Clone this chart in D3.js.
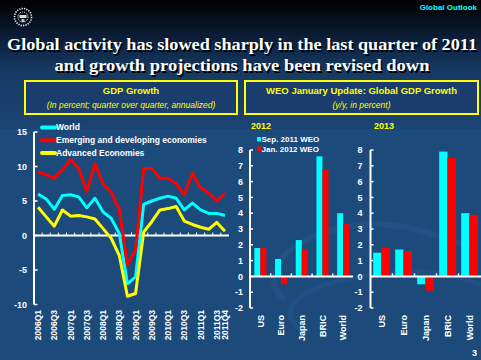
<!DOCTYPE html>
<html><head><meta charset="utf-8">
<script src="https://cdn.jsdelivr.net/npm/d3@7"></script>
<style>html,body{margin:0;padding:0;background:#1b4a7b;}svg{display:block;}</style>
</head><body>
<script>
// ---------- DATA ----------
const quarters = ["2006Q1","2006Q2","2006Q3","2006Q4","2007Q1","2007Q2","2007Q3","2007Q4",
  "2008Q1","2008Q2","2008Q3","2008Q4","2009Q1","2009Q2","2009Q3","2009Q4",
  "2010Q1","2010Q2","2010Q3","2010Q4","2011Q1","2011Q2","2011Q3","2011Q4"];
const worldGrowth    = [6.0,5.3,3.8,5.8,5.9,5.6,4.0,5.4,3.4,2.5,0.3,-7.0,-6.0,4.5,5.0,5.4,5.7,5.4,3.7,4.7,3.7,3.2,3.2,2.9];
const emergingGrowth = [9.2,8.8,8.35,9.5,11.0,9.7,6.4,10.4,7.5,6.3,3.7,-4.2,-2.1,9.7,9.7,8.3,8.3,7.5,5.9,9.0,6.9,6.2,5.0,6.1];
const advancedGrowth = [4.1,2.7,1.35,3.7,2.8,2.9,2.7,2.4,1.0,-0.4,-2.9,-8.8,-8.4,0.5,2.0,3.7,3.9,4.2,2.1,1.6,1.2,0.9,1.9,0.6];
const seriesNames = ["World","Emerging and developing economies","Advanced Economies"];
const leftTicks = [15,10,5,0,-5,-10];

const barCats = ["US","Euro","Japan","BRIC","World"];
const sep2011_2012 = [1.8,1.1,2.3,7.6,4.0];
const jan2012_2012 = [1.8,-0.5,1.7,6.8,3.3];
const sep2011_2013 = [1.5,1.7,-0.5,7.9,4.0];
const jan2012_2013 = [1.8,1.6,-0.9,7.5,3.9];
const barTicks = [8,7,6,5,4,3,2,1,0,-1,-2];
const barLegend = ["Sep. 2011 WEO","Jan. 2012 WEO"];

// ---------- SETUP ----------
const W = 481, H = 360;
const FONT = "'Liberation Sans', Arial, sans-serif";
const svg = d3.select("body").append("svg").attr("width", W).attr("height", H);
const defs = svg.append("defs");
const g1 = defs.append("linearGradient").attr("id","topgrad").attr("x1",0).attr("y1",0).attr("x2",0).attr("y2",1);
g1.append("stop").attr("offset","0%").attr("stop-color","#000000");
g1.append("stop").attr("offset","25%").attr("stop-color","#0a1a30");
g1.append("stop").attr("offset","55%").attr("stop-color","#163a64");
g1.append("stop").attr("offset","100%").attr("stop-color","#1b4373");

svg.append("rect").attr("width",W).attr("height",H).attr("fill","#1b4a7b");
svg.append("rect").attr("width",W).attr("height",129).attr("fill","url(#topgrad)");

// faint watermark swoosh
svg.append("path").attr("d","M285,300 C250,270 300,230 360,225 C410,220 440,240 470,245")
  .attr("fill","none").attr("stroke","#2a5a8c").attr("stroke-width",6).attr("opacity",0.45);
svg.append("path").attr("d","M300,330 C265,300 330,275 400,272 C440,270 470,280 481,285")
  .attr("fill","none").attr("stroke","#2a5a8c").attr("stroke-width",5).attr("opacity",0.35);

// logo (seal)
const logo = svg.append("g").attr("transform","translate(23,17)");
logo.append("circle").attr("r",8.5).attr("fill","none").attr("stroke","#fff").attr("stroke-width",1.6).attr("stroke-dasharray","1.2,1.2");
logo.append("circle").attr("r",5).attr("fill","none").attr("stroke","#fff").attr("stroke-width",1).attr("stroke-dasharray","1,1");
logo.append("rect").attr("x",-3.5).attr("y",-2).attr("width",7).attr("height",3).attr("fill","#fff").attr("opacity",0.85);
logo.append("rect").attr("x",-1.5).attr("y",2).attr("width",3).attr("height",3).attr("fill","#fff").attr("opacity",0.7);

svg.append("text").attr("x",477).attr("y",10).attr("text-anchor","end")
  .attr("font-family",FONT).attr("font-weight","bold").attr("font-size",8).attr("fill","#00ffff").text("Global Outlook");

// title
const titleLines = [["Global activity has slowed sharply in the last quarter of 2011",50,470],["and growth projections have been revised down",71,375]];
titleLines.forEach(([t,y,len])=>{
  [["#000",1.5],["#fff",0]].forEach(([c,o])=>{
    svg.append("text").attr("x",242+o).attr("y",y+o).attr("text-anchor","middle")
      .attr("font-family","'Liberation Serif', 'Times New Roman', serif").attr("font-weight","bold")
      .attr("font-size",16).attr("fill",c).attr("textLength",len).attr("lengthAdjust","spacingAndGlyphs").text(t);
  });
});

// header boxes
function hbox(x,w,title,sub){
  svg.append("rect").attr("x",x).attr("y",81).attr("width",w).attr("height",33)
    .attr("fill","#1a3d6d").attr("stroke","#ffff00").attr("stroke-width",2);
  svg.append("text").attr("x",x+w/2).attr("y",93.5).attr("text-anchor","middle").attr("font-family",FONT)
    .attr("font-weight","bold").attr("font-size",9.5).attr("fill","#ffff00").text(title);
  svg.append("text").attr("x",x+w/2).attr("y",107.5).attr("text-anchor","middle").attr("font-family",FONT)
    .attr("font-style","italic").attr("font-size",8.5).attr("fill","#ffff00").text(sub);
}
hbox(25,212,"GDP Growth","(In percent; quarter over quarter, annualized)");
hbox(245,233,"WEO January Update: Global GDP Growth","(y/y, in percent)");

// ---------- LEFT LINE CHART ----------
const x = d3.scaleBand().domain(quarters).range([34,229]);
const y = d3.scaleLinear().domain([-10,15]).range([304.5,132]);
const L = svg.append("g");
// y axis
L.append("line").attr("x1",34).attr("x2",34).attr("y1",y(15)).attr("y2",y(-10)).attr("stroke","#fff").attr("stroke-width",2);
leftTicks.forEach(v=>{
  L.append("line").attr("x1",34).attr("x2",37.5).attr("y1",y(v)).attr("y2",y(v)).attr("stroke","#fff").attr("stroke-width",1.5);
  L.append("text").attr("x",27).attr("y",y(v)).attr("dy","0.35em").attr("text-anchor","end")
    .attr("font-family",FONT).attr("font-weight","bold").attr("font-size",9).attr("fill","#fff").text(v);
});
// zero line
L.append("line").attr("x1",34).attr("x2",229).attr("y1",y(0)).attr("y2",y(0)).attr("stroke","#fff").attr("stroke-width",2);
quarters.forEach((q,i)=>{
  if(i>0) L.append("line").attr("x1",x(q)).attr("x2",x(q)).attr("y1",y(0)).attr("y2",y(0)-3).attr("stroke","#fff").attr("stroke-width",1);
  if(i%2===0 || i===quarters.length-1){
    const cx = x(q)+x.bandwidth()/2;
    L.append("text").attr("transform",`translate(${cx},310) rotate(-90)`).attr("dy","0.35em").attr("text-anchor","end")
      .attr("font-family",FONT).attr("font-weight","bold").attr("font-size",8.5).attr("fill","#fff").text(q);
  }
});
const line = d3.line().x((d,i)=>x(quarters[i])+x.bandwidth()/2).y(d=>y(d));
const lineSeries = [[worldGrowth,"#00ffff"],[emergingGrowth,"#ff0000"],[advancedGrowth,"#ffff00"]];
lineSeries.forEach(([data,c])=>{
  L.append("path").attr("d",line(data)).attr("fill","none").attr("stroke",c).attr("stroke-width",3).attr("stroke-linejoin","round");
});
// legend
seriesNames.forEach((n,i)=>{
  const ly = 127.5 + i*12.7;
  L.append("line").attr("x1",42).attr("x2",55).attr("y1",ly).attr("y2",ly).attr("stroke",lineSeries[i][1]).attr("stroke-width",4).attr("stroke-linecap","round");
  L.append("text").attr("x",56).attr("y",ly).attr("dy","0.35em").attr("font-family",FONT).attr("font-weight","bold")
    .attr("font-size",8.5).attr("fill","#fff").text(n);
});

// ---------- BAR CHARTS ----------
function barChart(opt){
  const bx = d3.scaleBand().domain(barCats).range(opt.range);
  const by = d3.scaleLinear().domain([-2,8]).range([308,150]);
  const G = svg.append("g");
  const x0 = opt.range[0];
  G.append("text").attr("x",opt.titleX).attr("y",128.5).attr("font-family",FONT).attr("font-weight","bold")
    .attr("font-size",9).attr("fill","#ffff00").text(opt.title);
  G.append("line").attr("x1",x0).attr("x2",x0).attr("y1",by(8)).attr("y2",by(-2)).attr("stroke","#fff").attr("stroke-width",2);
  barTicks.forEach(v=>{
    G.append("line").attr("x1",x0).attr("x2",x0+3).attr("y1",by(v)).attr("y2",by(v)).attr("stroke","#fff").attr("stroke-width",1.5);
    G.append("text").attr("x",opt.labelX).attr("y",by(v)).attr("dy","0.35em").attr("text-anchor","end")
      .attr("font-family",FONT).attr("font-weight","bold").attr("font-size",9).attr("fill","#fff").text(v);
  });
  const bw = opt.barW;
  barCats.forEach((c,i)=>{
    const cx = bx(c)+bx.bandwidth()/2;
    [[opt.a,"#00ffff",-bw],[opt.b,"#ff0000",0]].forEach(([arr,col,off])=>{
      const v = arr[i];
      G.append("rect").attr("x",cx+off).attr("width",bw).attr("y",by(Math.max(0,v))).attr("height",Math.abs(by(v)-by(0))).attr("fill",col);
    });
    G.append("text").attr("transform",`translate(${cx},315) rotate(-90)`).attr("dy","0.35em").attr("text-anchor","end")
      .attr("font-family",FONT).attr("font-weight","bold").attr("font-size",9).attr("fill","#fff").text(c);
    if(i>0) G.append("line").attr("x1",bx(c)).attr("x2",bx(c)).attr("y1",by(0)).attr("y2",by(0)-3).attr("stroke","#fff").attr("stroke-width",1.5);
  });
  G.append("line").attr("x1",x0).attr("x2",opt.zeroEnd).attr("y1",by(0)).attr("y2",by(0)).attr("stroke","#fff").attr("stroke-width",2);
  if(opt.legend){
    barLegend.forEach((t,i)=>{
      const ly = 139.5 + i*9.5;
      G.append("rect").attr("x",257).attr("y",ly-2.5).attr("width",4).attr("height",4.5).attr("fill",i?"#ff0000":"#00ffff");
      G.append("text").attr("x",261.5).attr("y",ly).attr("dy","0.35em").attr("font-family",FONT).attr("font-weight","bold")
        .attr("font-size",8).attr("fill","#fff").text(t);
    });
  }
}
barChart({range:[250,353.5],title:"2012",titleX:251,labelX:243,barW:6,a:sep2011_2012,b:jan2012_2012,zeroEnd:353,legend:true});
barChart({range:[370.5,480.5],title:"2013",titleX:374,labelX:362.5,barW:8.3,a:sep2011_2013,b:jan2012_2013,zeroEnd:481,legend:false});

svg.append("text").attr("x",477).attr("y",356).attr("text-anchor","end").attr("font-family",FONT)
  .attr("font-weight","bold").attr("font-size",9).attr("fill","#fff").text("3");
</script>
</body></html>
